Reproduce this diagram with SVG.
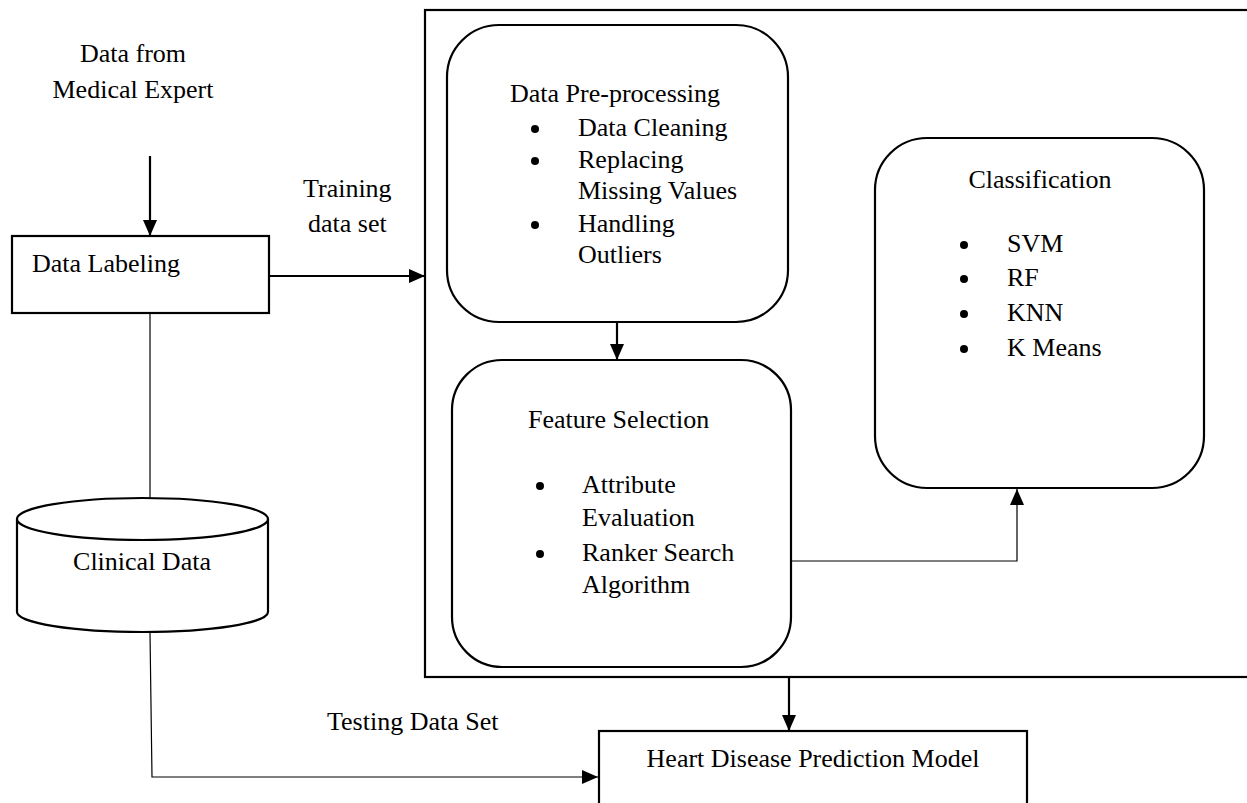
<svg xmlns="http://www.w3.org/2000/svg" width="1247" height="803" viewBox="0 0 1247 803" font-family="Liberation Serif, Times New Roman, DejaVu Serif, serif" font-size="26">
<style>
text{font-family:'Liberation Serif','Times New Roman','DejaVu Serif',serif;font-size:26px;fill:#000}
.box{fill:#fff;stroke:#000;stroke-width:2.2}
.thin{fill:none;stroke:#000;stroke-width:1.2}
.thick{fill:none;stroke:#000;stroke-width:2.2}
.c{text-anchor:middle}
</style>
<defs>
<marker id="ah" markerUnits="userSpaceOnUse" markerWidth="16" markerHeight="16" viewBox="0 0 16 16" refX="16" refY="8" orient="auto">
<path d="M0,1 L16,8 L0,15 Z" fill="#000"/>
</marker>
</defs>
<rect width="1247" height="803" fill="#fff"/>
<g id="outer"><rect class="box" x="425" y="10" width="830" height="667"/></g>
<g id="source"><text class="c" x="133" y="62">Data from</text><text class="c" x="133" y="98">Medical Expert</text></g>
<g id="labeling"><rect class="box" x="12" y="236" width="257" height="77"/><text x="32" y="272">Data Labeling</text></g>
<g id="clinical">
<path class="box" d="M17,519 L17,612 A125.5,20 0 0 0 268,612 L268,519"/>
<ellipse class="box" cx="142.5" cy="519" rx="125.5" ry="21"/>
<text class="c" x="142" y="570">Clinical Data</text>
</g>
<g id="preprocessing">
<rect class="box" x="447" y="25" width="341" height="297" rx="52" ry="52"/>
<text x="510" y="102">Data Pre-processing</text>
<circle cx="535" cy="129" r="4"/><text x="578" y="136">Data Cleaning</text>
<circle cx="535" cy="161" r="4"/><text x="578" y="168">Replacing</text>
<text x="578" y="199">Missing Values</text>
<circle cx="535" cy="225" r="4"/><text x="578" y="232">Handling</text>
<text x="578" y="263">Outliers</text>
</g>
<g id="feature">
<rect class="box" x="452" y="360" width="339" height="307" rx="50" ry="50"/>
<text x="528" y="428">Feature Selection</text>
<circle cx="540" cy="486" r="4"/><text x="582" y="493">Attribute</text>
<text x="582" y="526">Evaluation</text>
<circle cx="540" cy="554" r="4"/><text x="582" y="561">Ranker Search</text>
<text x="582" y="593">Algorithm</text>
</g>
<g id="classification">
<rect class="box" x="875" y="138" width="329" height="350" rx="52" ry="52"/>
<text class="c" x="1040" y="188">Classification</text>
<circle cx="964" cy="245" r="4"/><text x="1007" y="252">SVM</text>
<circle cx="964" cy="279" r="4"/><text x="1007" y="286">RF</text>
<circle cx="964" cy="314" r="4"/><text x="1007" y="321">KNN</text>
<circle cx="964" cy="349" r="4"/><text x="1007" y="356">K Means</text>
</g>
<g id="model"><rect class="box" x="599" y="731" width="428" height="90"/><text class="c" x="813" y="767">Heart Disease Prediction Model</text></g>
<g id="connectors">
<line class="thick" x1="150" y1="156" x2="150" y2="236" marker-end="url(#ah)"/>
<line class="thick" x1="270" y1="276" x2="425" y2="276" marker-end="url(#ah)"/>
<line class="thin" x1="150" y1="313" x2="150" y2="498"/>
<polyline class="thin" points="150,633 152,777 598,777" marker-end="url(#ah)"/>
<line class="thick" x1="617" y1="322" x2="617" y2="360" marker-end="url(#ah)"/>
<polyline class="thin" points="791,561 1017,561 1017,489" marker-end="url(#ah)"/>
<line class="thick" x1="789" y1="677" x2="789" y2="731" marker-end="url(#ah)"/>
<text x="303" y="197">Training</text>
<text x="308" y="232">data set</text>
<text x="327" y="730">Testing Data Set</text>
</g>
</svg>
